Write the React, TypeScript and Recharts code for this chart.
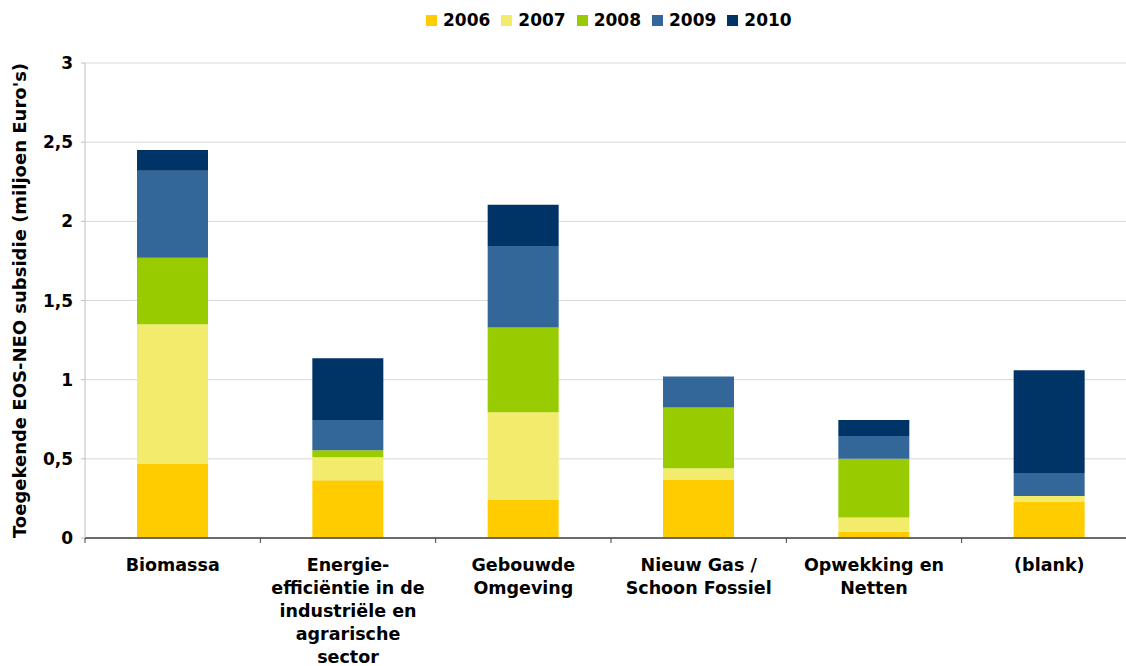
import React from 'react';
import { Bar, BarChart, CartesianGrid, Legend, XAxis, YAxis } from 'recharts';

const categories = [
  'Biomassa',
  'Energie-\nefficiëntie in de\nindustriële en\nagrarische\nsector',
  'Gebouwde\nOmgeving',
  'Nieuw Gas /\nSchoon Fossiel',
  'Opwekking en\nNetten',
  '(blank)',
];
const years = ['2006', '2007', '2008', '2009', '2010'];
const colors = ['#FFCC00', '#F3EB6B', '#99CC00', '#336699', '#003366'];

const v2006 = [0.47, 0.365, 0.24, 0.37, 0.04, 0.23];
const v2007 = [0.88, 0.145, 0.555, 0.07, 0.09, 0.035];
const v2008 = [0.42, 0.045, 0.535, 0.385, 0.37, 0];
const v2009 = [0.55, 0.19, 0.515, 0.195, 0.145, 0.145];
const v2010 = [0.13, 0.39, 0.26, 0, 0.1, 0.65];

const yTicks = [0, 0.5, 1, 1.5, 2, 2.5, 3];
const yTitle = "Toegekende EOS-NEO subsidie (miljoen Euro's)";

const series = [v2006, v2007, v2008, v2009, v2010];
const data = categories.map((name, i) => {
  const row: Record<string, string | number> = { name };
  years.forEach((y, s) => { row[y] = series[s][i]; });
  return row;
});

const FONT = '"DejaVu Sans", Verdana, sans-serif';
const CHART_W = 1137;
const PLOT_LEFT = 85;
const STEP = (CHART_W - PLOT_LEFT) / categories.length;

const XTick = (props: any) => {
  const { x, y, payload } = props;
  const lines = String(payload.value).split('\n');
  const axisY = y - 20;
  const bx = x - STEP / 2;
  return (
    <g>
      <line x1={bx} x2={bx} y1={axisY} y2={axisY + 5} stroke='#404040' strokeWidth={1} />
      <text x={x} y={y} textAnchor='middle' fill='#000' fontFamily={FONT} fontWeight='bold' fontSize={17.5}>
        {lines.map((l, i) => (
          <tspan key={i} x={x} dy={i === 0 ? '0.72em' : 23}>{l}</tspan>
        ))}
      </text>
    </g>
  );
};

const LegendContent = () => (
  <div style={{ display: 'flex', fontFamily: FONT, fontWeight: 'bold', fontSize: 17, color: '#000' }}>
    {years.map((y, i) => (
      <div key={y} style={{ display: 'flex', alignItems: 'center', marginRight: 11 }}>
        <span style={{ width: 11, height: 11, background: colors[i], marginRight: 6, display: 'inline-block' }} />
        <span>{y}</span>
      </div>
    ))}
  </div>
);

export default function App() {
  return (
    <div style={{ position: 'absolute', top: 0, left: 0, width: 1126, height: 666, overflow: 'hidden', background: '#fff' }}>
      <BarChart
        width={CHART_W}
        height={666}
        data={data}
        margin={{ top: 63, right: 0, bottom: 0, left: 0 }}
        barSize={71}
      >
        <CartesianGrid vertical={false} stroke='#d9d9d9' />
        <XAxis
          dataKey='name'
          height={128}
          interval={0}
          tickSize={5}
          tickMargin={15}
          tickLine={false}
          axisLine={{ stroke: '#404040', strokeWidth: 1.5 }}
          tick={<XTick />}
        />
        <YAxis
          width={PLOT_LEFT}
          domain={[0, 3]}
          ticks={yTicks}
          interval={0}
          tickSize={4}
          tickMargin={8}
          tickFormatter={(v: number) => String(v).replace('.', ',')}
          tick={{ fill: '#000', fontFamily: FONT, fontWeight: 'bold', fontSize: 17 }}
          tickLine={{ stroke: '#bfbfbf' }}
          axisLine={{ stroke: '#bfbfbf' }}
          label={{
            value: yTitle,
            angle: -90,
            position: 'insideLeft',
            offset: 20,
            style: { textAnchor: 'middle', fill: '#000', fontFamily: FONT, fontWeight: 'bold', fontSize: 18 },
          }}
        />
        <Legend
          verticalAlign='middle'
          content={<LegendContent />}
          wrapperStyle={{ top: 10, left: 426, width: 'auto' }}
        />
        {years.map((y, i) => (
          <Bar key={y} dataKey={y} stackId='a' fill={colors[i]} isAnimationActive={false} />
        ))}
      </BarChart>
    </div>
  );
}
